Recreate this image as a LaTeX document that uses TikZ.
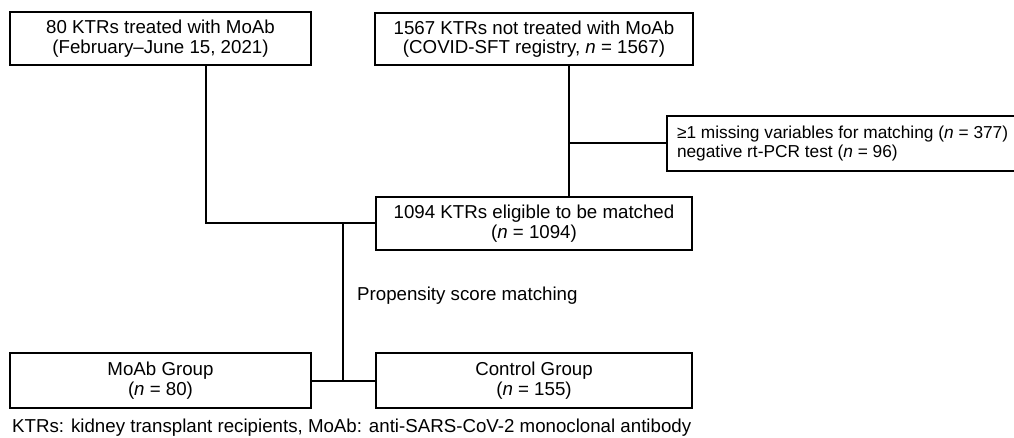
\documentclass[tikz,border=0pt]{standalone}
\usepackage{fontspec}
\setmainfont{Liberation Sans}
\begin{document}
\begin{tikzpicture}[x=1pt,y=-1pt,
  box/.style={draw, line width=2pt, align=center, inner sep=0pt,
    font=\fontsize{18.7}{19.5}\selectfont},
  link/.style={line width=2pt},
  plain/.style={inner sep=0pt, font=\fontsize{18.7}{19.5}\selectfont}]
\useasboundingbox (0,0) rectangle (1014,438);
\node[box, minimum width=301pt, minimum height=53pt] (A) at (160.5,38.5)
  {80 KTRs treated with MoAb\\(February--June 15, 2021)};
\node[box, minimum width=318pt, minimum height=52pt] (B) at (534,39)
  {1567 KTRs not treated with MoAb\\(COVID-SFT registry, \textit{n} = 1567)};
\node[box, minimum width=345pt, minimum height=55pt, align=left, inner xsep=10pt, anchor=west,
  font=\fontsize{17.3}{19}\selectfont] (D) at (666,143.5)
  {≥1 missing variables for matching (\textit{n} = 377)\\negative rt-PCR test (\textit{n} = 96)};
\node[box, minimum width=316pt, minimum height=53pt] (C) at (534,223.5)
  {1094 KTRs eligible to be matched\\(\textit{n} = 1094)};
\node[box, minimum width=301pt, minimum height=55pt] (E) at (160.5,380.5)
  {MoAb Group\\(\textit{n} = 80)};
\node[box, minimum width=316pt, minimum height=55pt] (F) at (534,380.5)
  {Control Group\\(\textit{n} = 155)};
\node[plain, anchor=base west] (psm) at (357,300) {Propensity score matching};
\node[plain, anchor=base west] (foot) at (12,432)
  {KTRs: kidney transplant recipients, MoAb: anti-SARS-CoV-2 monoclonal antibody};
\coordinate (ax) at (206,0);
\coordinate (bx) at (569,0);
\coordinate (j1) at (343,223.5);
\coordinate (j2) at (343,380.5);
\draw[link] (A.south -| ax) |- (C.west);
\draw[link] (B.south -| bx) -- (C.north -| bx);
\draw[link] (D.west -| bx) -- (D.west);
\draw[link] (j1) -- (j2);
\draw[link] (E.east) -- (F.west);
\end{tikzpicture}
\end{document}
